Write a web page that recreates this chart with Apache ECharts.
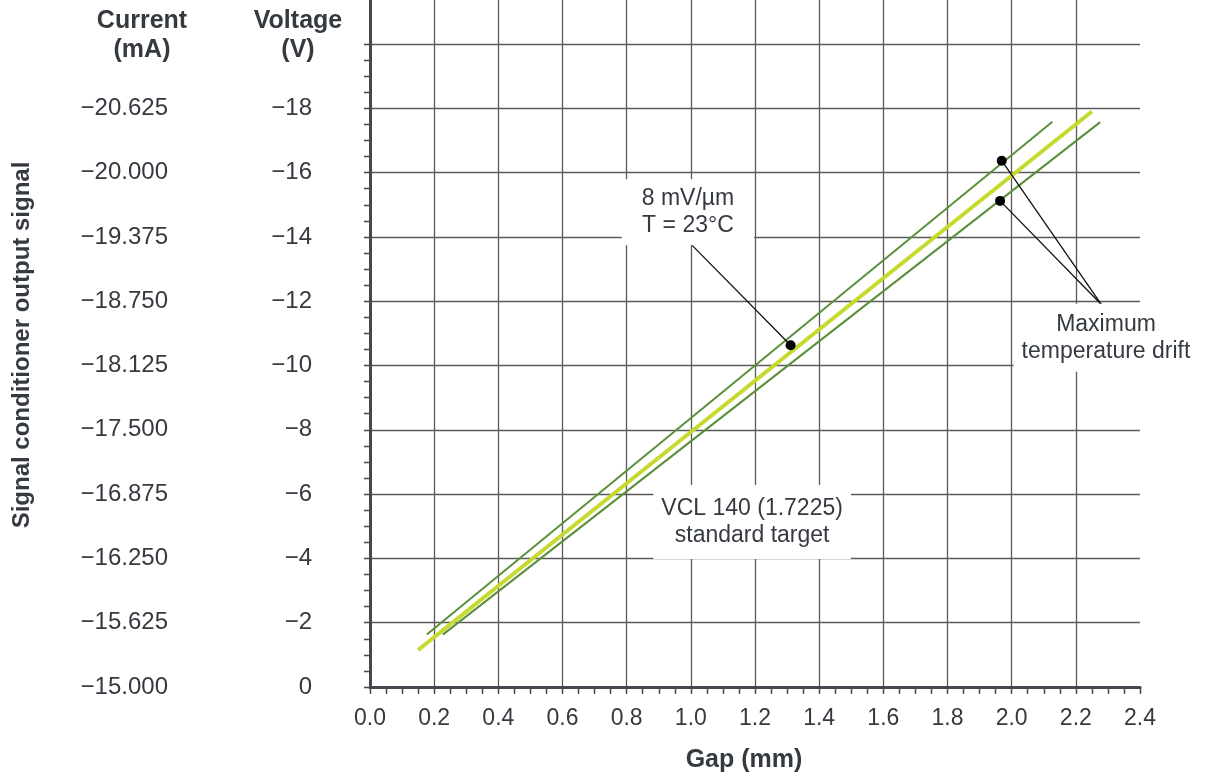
<!DOCTYPE html>
<html><head><meta charset="utf-8">
<script src="https://cdn.jsdelivr.net/npm/echarts@6/dist/echarts.min.js"></script>
<style>html,body{margin:0;padding:0;background:#fff}#c{width:1206px;height:776px}</style>
</head><body><div id="c"></div>
<script>
// ---- data ----
const gapLabels = ['0.0','0.2','0.4','0.6','0.8','1.0','1.2','1.4','1.6','1.8','2.0','2.2','2.4'];
const voltageLabels = ['0','\u22122','\u22124','\u22126','\u22128','\u221210','\u221212','\u221214','\u221216','\u221218',''];
const currentLabels = ['\u221215.000','\u221215.625','\u221216.250','\u221216.875','\u221217.500','\u221218.125','\u221218.750','\u221219.375','\u221220.000','\u221220.625',''];
const centerLine = [[0.15,-1.15],[2.25,-17.9]];
const upperDrift = [[0.177,-1.63],[2.127,-17.58]];
const lowerDrift = [[0.227,-1.63],[2.276,-17.57]];
const markerPoints = [[1.311,-10.63],[1.969,-16.37],[1.964,-15.12]];
const annotationTexts = ['8 mV/\u00b5m\nT = 23\u00b0C','VCL 140 (1.7225)\nstandard target','Maximum\ntemperature drift'];
const annotationAnchors = [[0.991,-14.77],[1.191,-5.13],[2.294,-10.86]];
const leaderEnds = [[0.995,-13.83],[2.281,-11.88],[2.281,-11.88]];

// ---- styles ----
const FONT = "'Liberation Sans', Arial, sans-serif";
const textColor = '#353a41';
const axisColor = '#45494f';
const gridColor = '#5a5a5a';
const annPadding = [[6,20],[10,8],[7,8]];

const chart = echarts.init(document.getElementById('c'));
const tickStyle = {color: axisColor, width: 1.3};
function baseX(grid){
  return {gridIndex:grid, type:'value', min:0, max:2.4, interval:0.2,
    axisLine:{show:false}, axisTick:{show:false}, minorTick:{show:false},
    axisLabel:{show:false}, splitLine:{show:false}};
}
const option = {
  animation:false,
  backgroundColor:'#fff',
  grid:[
    {left:370, top:44, width:770, height:643, outerBoundsMode:'none'},
    {left:370, top:0, width:770, height:44, outerBoundsMode:'none'}
  ],
  xAxis:[
    Object.assign(baseX(0), {
      axisLine:{show:true, onZero:false, lineStyle:{color:axisColor, width:3}},
      axisTick:{show:true, length:6, lineStyle:tickStyle},
      minorTick:{show:true, splitNumber:4, length:6, lineStyle:tickStyle},
      axisLabel:{show:true, margin:20, fontSize:23, color:textColor, fontFamily:FONT,
        formatter:v=>gapLabels[Math.round(v/0.2)]},
      splitLine:{show:true, showMinLine:false, showMaxLine:false, lineStyle:{color:gridColor, width:1.3}}
    }),
    Object.assign(baseX(0), {
      axisTick:{show:true, inside:true, length:7, lineStyle:tickStyle},
      minorTick:{show:true, splitNumber:4, length:7, lineStyle:tickStyle}
    }),
    Object.assign(baseX(1), {
      splitLine:{show:true, showMinLine:false, showMaxLine:false, lineStyle:{color:gridColor, width:1.3}}
    })
  ],
  yAxis:[
    {gridIndex:0, type:'value', min:-20, max:0, interval:2, inverse:true,
      axisLine:{show:true, onZero:false, lineStyle:{color:axisColor, width:3}},
      axisTick:{show:true, length:6, lineStyle:tickStyle},
      minorTick:{show:true, splitNumber:4, length:6, lineStyle:tickStyle},
      axisLabel:{margin:58, fontSize:24, color:textColor, fontFamily:FONT,
        formatter:v=>voltageLabels[Math.round(-v/2)]},
      splitLine:{show:true, lineStyle:{color:gridColor, width:1.3}}},
    {gridIndex:0, type:'value', min:-20, max:0, interval:2, inverse:true,
      axisLine:{show:false},
      axisTick:{show:true, inside:true, length:6, lineStyle:tickStyle},
      minorTick:{show:true, splitNumber:4, length:6, lineStyle:tickStyle},
      axisLabel:{show:false}, splitLine:{show:false}},
    {gridIndex:0, type:'value', min:-21.25, max:-15, interval:0.625, inverse:true,
      position:'left', offset:144,
      axisLine:{show:false}, axisTick:{show:false}, minorTick:{show:false}, splitLine:{show:false},
      axisLabel:{margin:58, fontSize:24, color:textColor, fontFamily:FONT,
        formatter:v=>currentLabels[Math.round((v+15)/-0.625)]}},
    {gridIndex:1, type:'value', min:0, max:1,
      axisLine:{show:true, onZero:false, lineStyle:{color:axisColor, width:3}},
      axisTick:{show:false}, axisLabel:{show:false}, splitLine:{show:false}}
  ],
  series:[
    {type:'line', xAxisIndex:0, yAxisIndex:0, data:upperDrift, symbol:'none', z:3,
      lineStyle:{color:'#5b8f3b', width:2}},
    {type:'line', xAxisIndex:0, yAxisIndex:0, data:lowerDrift, symbol:'none', z:3,
      lineStyle:{color:'#5b8f3b', width:2}},
    {type:'line', xAxisIndex:0, yAxisIndex:0, data:centerLine, symbol:'none', z:4,
      lineStyle:{color:'#c6da2e', width:4}},
    {type:'scatter', xAxisIndex:0, yAxisIndex:0, data:markerPoints, symbolSize:10, z:6,
      itemStyle:{color:'#000', opacity:1},
      markLine:{silent:true, animation:false, symbol:['none','none'], label:{show:false},
        lineStyle:{color:'#111', width:1.3, type:'solid', opacity:1},
        emphasis:{disabled:true},
        data:markerPoints.map((p,i)=>[{coord:p},{coord:leaderEnds[i]}])}},
    {type:'scatter', xAxisIndex:0, yAxisIndex:0, symbolSize:0, z:5, clip:false,
      itemStyle:{color:'#fff', opacity:1},
      data:annotationAnchors.map((p,i)=>({value:p,
        label:{show:true, position:'inside', formatter:annotationTexts[i], opacity:1,
          backgroundColor:'#fff', padding:annPadding[i], align:'center', verticalAlign:'middle',
          fontSize:23, lineHeight:27, color:textColor, fontFamily:FONT}}))}
  ],
  graphic:[
    {type:'text', x:142, y:36, style:{text:'Current\n(mA)', font:'bold 25px '+FONT, fill:textColor, align:'center', verticalAlign:'middle', lineHeight:29}},
    {type:'text', x:298, y:36, style:{text:'Voltage\n(V)', font:'bold 25px '+FONT, fill:textColor, align:'center', verticalAlign:'middle', lineHeight:29}},
    {type:'text', x:744, y:760, style:{text:'Gap (mm)', font:'bold 25px '+FONT, fill:textColor, align:'center', verticalAlign:'middle'}},
    {type:'text', x:22, y:345, rotation:Math.PI/2, style:{text:'Signal conditioner output signal', font:'bold 24px '+FONT, fill:textColor, align:'center', verticalAlign:'middle'}}
  ]
};
chart.setOption(option);
</script>
</body></html>
